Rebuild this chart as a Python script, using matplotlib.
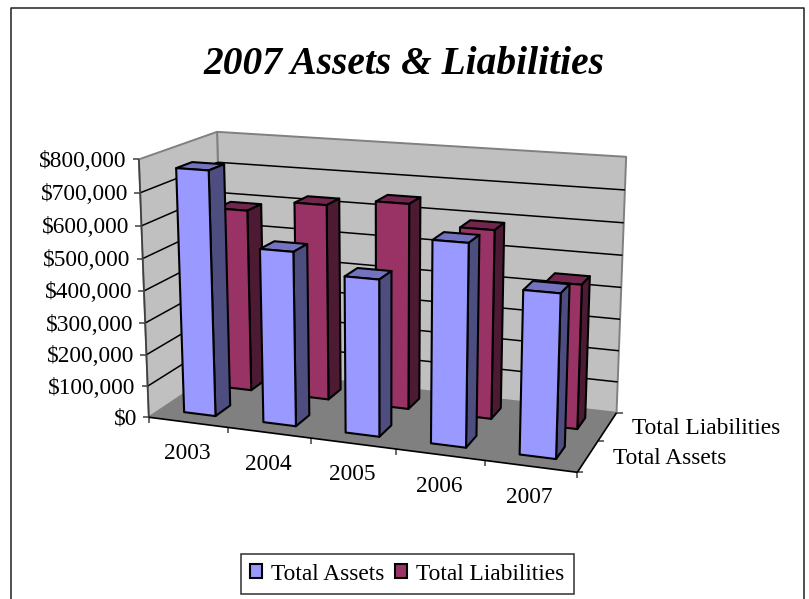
import numpy as np
import matplotlib
matplotlib.use("Agg")
import matplotlib.pyplot as plt
from matplotlib.patches import Polygon, Patch

plt.rcParams['font.family'] = ['Liberation Serif', 'DejaVu Serif']

years = ["2003", "2004", "2005", "2006", "2007"]
series_names = ["Total Assets", "Total Liabilities"]
total_assets = [765000, 540000, 480000, 610000, 488000]
total_liabilities = [590000, 627000, 650000, 590000, 447000]
value_ticks = [0, 100000, 200000, 300000, 400000, 500000, 600000, 700000, 800000]

asset_faces = ["#9999FF", "#7373BF", "#4D4D80"]
liab_faces = ["#993366", "#73264D", "#4D1A33"]
WALL = "#C0C0C0"
FLOOR = "#808080"
EDGE = "#808080"
TEXT_SIZE = 16.8

zmax = value_ticks[-1]
ncat = len(years)
nser = len(series_names)

# box corners (cat, series, value) and where they land on the page
box = [(0, 0, 0), (ncat, 0, 0), (ncat, nser, 0), (0, nser, 0),
       (0, 0, zmax), (ncat, 0, zmax), (ncat, nser, zmax), (0, nser, zmax)]
page = [(150, 417), (577, 473), (617, 412), (222, 368),
        (138, 159), (595, 226), (626, 157), (218, 132)]


def fit_camera():
    rows, rhs = [], []
    for (x, y, z), (u, v) in zip(box, page):
        z = z / zmax
        rows.append([x, y, z, 1, 0, 0, 0, 0, -u * x, -u * y, -u * z])
        rhs.append(u)
        rows.append([0, 0, 0, 0, x, y, z, 1, -v * x, -v * y, -v * z])
        rhs.append(v)
    # front right top corner is hidden in the chart, so leave it out
    keep = [i for i in range(16) if i not in (10, 11)]
    sol = np.linalg.lstsq(np.array(rows)[keep], np.array(rhs)[keep], rcond=None)[0]
    return np.append(sol, 1).reshape(3, 4)


cam = fit_camera()


def proj(x, y, z):
    p = cam @ np.array([x, y, z / zmax, 1.0])
    return p[0] / p[2], p[1] / p[2]


def quad(ax, pts, face, edge="black", lw=1.5, z=2):
    ax.add_patch(Polygon([proj(*p) for p in pts], closed=True, facecolor=face,
                         edgecolor=edge, linewidth=lw, joinstyle="round", zorder=z))


def line(ax, a, b, color="black", lw=1.1, z=1.5):
    ax.plot([a[0], b[0]], [a[1], b[1]], color=color, lw=lw, zorder=z, solid_capstyle="butt")


def bar(ax, i, s, val, faces, z):
    x0, x1 = i + 0.3, i + 0.7
    y0, y1 = s + 0.3, s + 0.7
    quad(ax, [(x0, y0, val), (x1, y0, val), (x1, y1, val), (x0, y1, val)], faces[1], z=z)
    quad(ax, [(x1, y0, 0), (x1, y1, 0), (x1, y1, val), (x1, y0, val)], faces[2], z=z)
    quad(ax, [(x0, y0, 0), (x1, y0, 0), (x1, y0, val), (x0, y0, val)], faces[0], z=z)


fig = plt.figure(figsize=(8.09, 5.99), dpi=100)
ax = fig.add_axes([0, 0, 1, 1])
ax.set_xlim(0, 809)
ax.set_ylim(599, 0)
ax.axis("off")

# chart border, bottom runs off the image
ax.plot([11.5, 11.5, 804, 804], [599, 7.5, 7.5, 599], color="#202020", lw=1.1)

ax.text(404, 64, "2007 Assets & Liabilities", ha="center", va="center",
        fontsize=28.4, fontweight="bold", fontstyle="italic")

# walls and floor
quad(ax, [(0, nser, 0), (ncat, nser, 0), (ncat, nser, zmax), (0, nser, zmax)], WALL, EDGE, 1.4, 1)
quad(ax, [(0, 0, 0), (0, nser, 0), (0, nser, zmax), (0, 0, zmax)], WALL, EDGE, 1.4, 1)
quad(ax, [(0, 0, 0), (ncat, 0, 0), (ncat, nser, 0), (0, nser, 0)], FLOOR, "none", 0, 1.2)

for v in value_ticks[1:-1]:
    line(ax, proj(0, 0, v), proj(0, nser, v))
    line(ax, proj(0, nser, v), proj(ncat, nser, v))

# axis lines
line(ax, proj(0, 0, 0), proj(0, 0, zmax), "#404040", 1.2, 1.6)
line(ax, proj(0, 0, 0), proj(ncat, 0, 0), "black", 1.2, 1.6)
line(ax, proj(ncat, 0, 0), proj(ncat, nser, 0), "black", 1.2, 1.6)

# ticks and tick labels
for v in value_ticks:
    u, w = proj(0, 0, v)
    line(ax, (u - 6, w), (u, w), "#404040", 1.1)
    ax.text(u - 12, w + 2, "${:,}".format(v), ha="right", va="center", fontsize=TEXT_SIZE)

for i in range(ncat + 1):
    u, w = proj(i, 0, 0)
    line(ax, (u, w), (u, w + 6), "#404040", 1.1)

for i, year in enumerate(years):
    u, w = proj(i + 0.5, 0, 0)
    ax.text(u - 1, w + 31.5, year, ha="center", va="center", fontsize=TEXT_SIZE)

for s in range(nser + 1):
    u, w = proj(ncat, s, 0)
    line(ax, (u, w), (u + 6, w), "#404040", 1.1)

for s, name in enumerate(series_names):
    u, w = proj(ncat, s + 0.5, 0)
    ax.text(u + 25, w + 2, name, ha="left", va="center", fontsize=TEXT_SIZE)

# back series first, then left to right
for i, val in enumerate(total_liabilities):
    bar(ax, i, 1, val, liab_faces, 3 + i * 0.1)
for i, val in enumerate(total_assets):
    bar(ax, i, 0, val, asset_faces, 4 + i * 0.1)

handles = [Patch(facecolor=asset_faces[0], edgecolor="black", linewidth=1.5),
           Patch(facecolor=liab_faces[0], edgecolor="black", linewidth=1.5)]
leg = ax.legend(handles, series_names, ncol=2, loc="center", bbox_to_anchor=(407.5, 574),
                bbox_transform=ax.transData, fontsize=TEXT_SIZE, fancybox=False, edgecolor="#303030",
                framealpha=1, handlelength=0.5, handleheight=0.55, handletextpad=0.4,
                columnspacing=0.45, borderpad=0.4, borderaxespad=0)
leg.get_frame().set_linewidth(1.1)

fig.savefig("out.png", dpi=100)
